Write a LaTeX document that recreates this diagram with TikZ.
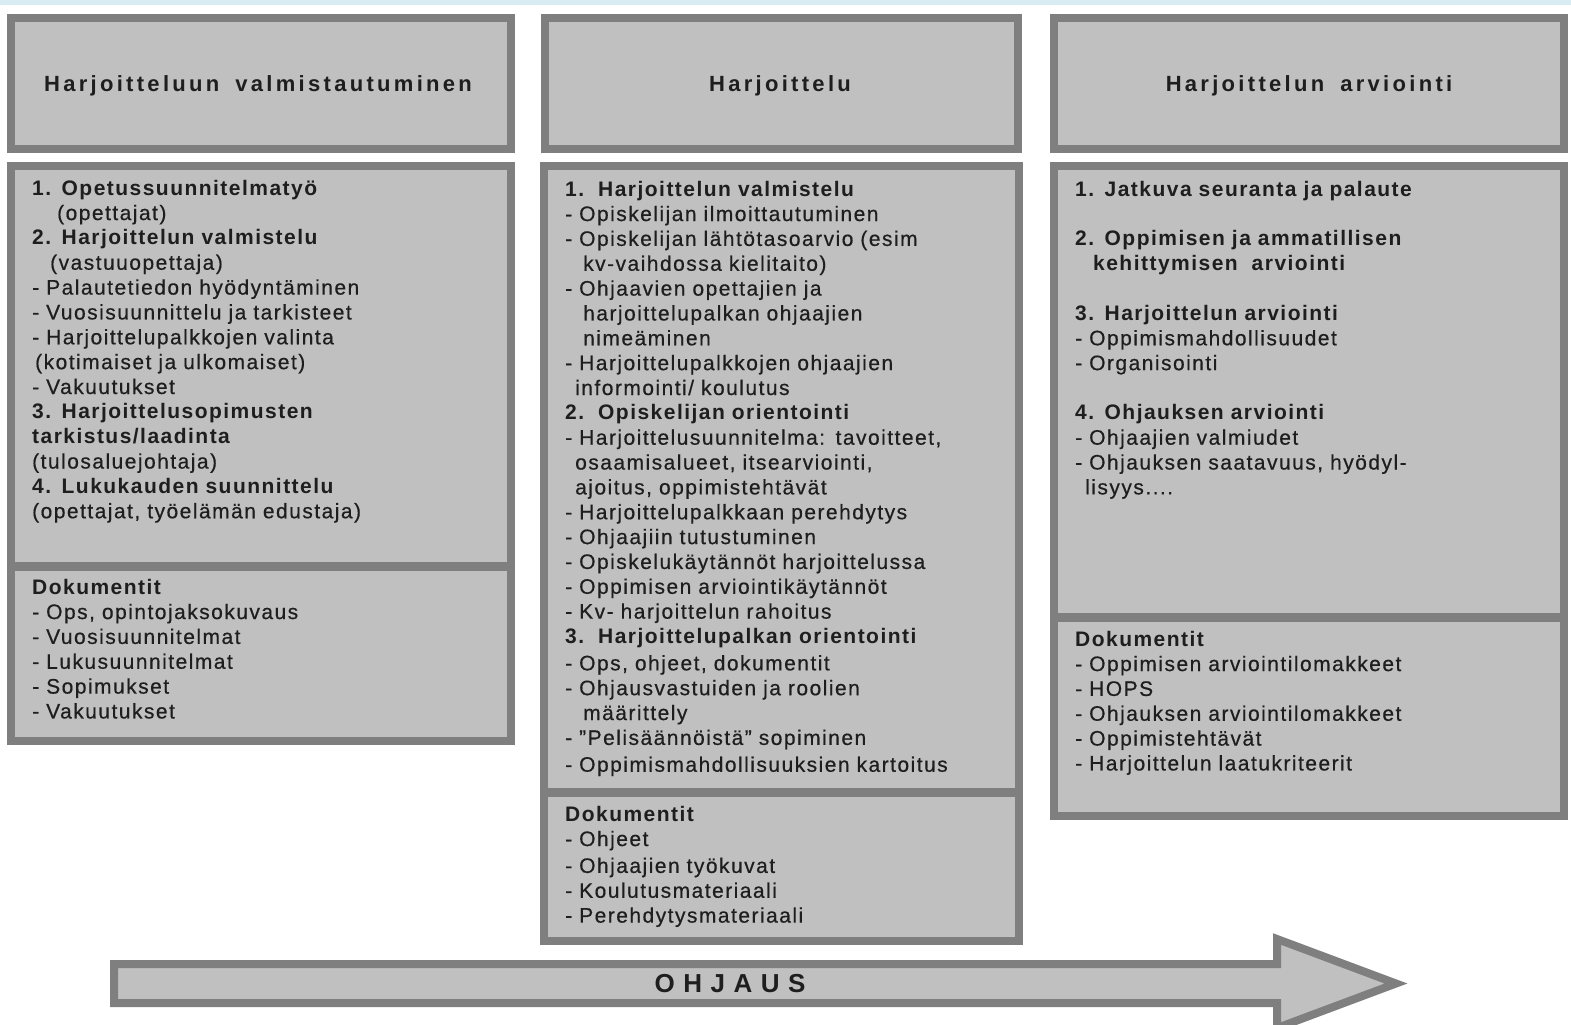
\documentclass[tikz,border=0pt]{standalone}
\usepackage{fontspec}
\setmainfont{Liberation Sans}
\newfontfamily\bodyfont{Liberation Sans}[LetterSpace=7, UprightFeatures={FakeBold=0.5}]
\newfontfamily\hdrfont{Liberation Sans}[LetterSpace=15]
\newfontfamily\arrowfont{Liberation Sans}[LetterSpace=5]
\definecolor{boxfill}{HTML}{C0C0C0}
\definecolor{boxline}{HTML}{7F7F7F}
\definecolor{txt}{HTML}{1E1E1E}
\definecolor{topband}{HTML}{D8ECF3}
\newcommand{\fs}{\rule{0pt}{16pt}}
\tikzset{
  panel/.style={draw=boxline, fill=boxfill, line width=8pt},
  divider/.style={draw=boxline, line width=9pt},
  hdr/.style={font=\hdrfont\bfseries\fontsize{22}{26}\selectfont, text=txt, inner sep=0pt, anchor=base},
  block/.style={font=\bodyfont\fontsize{21}{24.85}\selectfont, text=txt, inner sep=0pt, anchor=north west, text width=470pt, align=left},
  arrowtxt/.style={font=\arrowfont\bfseries\fontsize{26}{30}\selectfont, text=txt, inner sep=0pt, anchor=base}
}
\begin{document}
\begin{tikzpicture}[x=1pt,y=-1pt]
\useasboundingbox (0,0) rectangle (1571,1025);
\fill[white] (0,0) rectangle (1571,1025);
\fill[topband] (0,0) rectangle (1571,5);

% ---------- left column ----------
\draw[panel] (11,18) rectangle (511,149);
\node[hdr] (h1) at (258,91) {Harjoitteluun\hspace{0.3em} valmistautuminen};
\draw[panel] (11,166) rectangle (511,741);
\draw[divider] (11,566) -- (511,566);
\node[block] (l1) at (32,179) {\fs\textbf{1. Opetussuunnitelmatyö}\\
\hspace*{25pt}(opettajat)\\
\textbf{2. Harjoittelun valmistelu}\\
\hspace*{18pt}(vastuuopettaja)\\
- Palautetiedon hyödyntäminen\\
- Vuosisuunnittelu ja tarkisteet\\
- Harjoittelupalkkojen valinta\\
\hspace*{3pt}(kotimaiset ja ulkomaiset)\\
- Vakuutukset\\
\textbf{3. Harjoittelusopimusten}\\
\textbf{tarkistus/laadinta}\\
(tulosaluejohtaja)\\
\textbf{4. Lukukauden suunnittelu}\\
(opettajat, työelämän edustaja)};
\node[block] (l2) at (32,578) {\fs\textbf{Dokumentit}\\
- Ops, opintojaksokuvaus\\
- Vuosisuunnitelmat\\
- Lukusuunnitelmat\\
- Sopimukset\\
- Vakuutukset};

% ---------- middle column ----------
\draw[panel] (545,18) rectangle (1018,149);
\node[hdr] (h2) at (780,91) {Harjoittelu};
\draw[panel] (544,166) rectangle (1019,941);
\draw[divider] (544,792) -- (1019,792);
\node[block] (m1) at (565,180) {\fs\textbf{1.\ \ Harjoittelun valmistelu}\\
- Opiskelijan ilmoittautuminen\\
- Opiskelijan lähtötasoarvio (esim\\
\hspace*{18pt}kv-vaihdossa kielitaito)\\
- Ohjaavien opettajien ja\\
\hspace*{18pt}harjoittelupalkan ohjaajien\\
\hspace*{18pt}nimeäminen\\
- Harjoittelupalkkojen ohjaajien\\
\hspace*{10pt}informointi/ koulutus\\
\textbf{2.\ \ Opiskelijan orientointi}\\
- Harjoittelusuunnitelma: tavoitteet,\\
\hspace*{10pt}osaamisalueet, itsearviointi,\\
\hspace*{10pt}ajoitus, oppimistehtävät\\
- Harjoittelupalkkaan perehdytys\\
- Ohjaajiin tutustuminen\\
- Opiskelukäytännöt harjoittelussa\\
- Oppimisen arviointikäytännöt\\
- Kv- harjoittelun rahoitus\\
\textbf{3.\ \ Harjoittelupalkan orientointi}\\[2pt]
- Ops, ohjeet, dokumentit\\
- Ohjausvastuiden ja roolien\\
\hspace*{18pt}määrittely\\
- ”Pelisäännöistä” sopiminen\\[2pt]
- Oppimismahdollisuuksien kartoitus};
\node[block] (m2) at (565,805) {\fs\textbf{Dokumentit}\\
- Ohjeet\\[2pt]
- Ohjaajien työkuvat\\
- Koulutusmateriaali\\
- Perehdytysmateriaali};

% ---------- right column ----------
\draw[panel] (1054,18) rectangle (1564,149);
\node[hdr] (h3) at (1309,91) {Harjoittelun\hspace{0.3em} arviointi};
\draw[panel] (1054,166) rectangle (1564,816);
\draw[divider] (1054,617) -- (1564,617);
\node[block] (r1) at (1075,180) {\fs\textbf{1. Jatkuva seuranta ja palaute}\\[24.85pt]
\textbf{2. Oppimisen ja ammatillisen}\\
\hspace*{18pt}\textbf{kehittymisen\ \ arviointi}\\[24.85pt]
\textbf{3. Harjoittelun arviointi}\\
- Oppimismahdollisuudet\\
- Organisointi\\[24.85pt]
\textbf{4. Ohjauksen arviointi}\\
- Ohjaajien valmiudet\\
- Ohjauksen saatavuus, hyödyl-\\
\hspace*{10pt}lisyys....};
\node[block] (r2) at (1075,630) {\fs\textbf{Dokumentit}\\
- Oppimisen arviointilomakkeet\\
- HOPS\\
- Ohjauksen arviointilomakkeet\\
- Oppimistehtävät\\
- Harjoittelun laatukriteerit};

% ---------- arrow ----------
\draw[panel, line join=miter, miter limit=20] (114,964) -- (1277,964) -- (1277,939) -- (1396,983.5) -- (1277,1028) -- (1277,1003) -- (114,1003) -- cycle;
\node[arrowtxt] (oh) at (730,992) {O H J A U S};
\end{tikzpicture}
\end{document}
